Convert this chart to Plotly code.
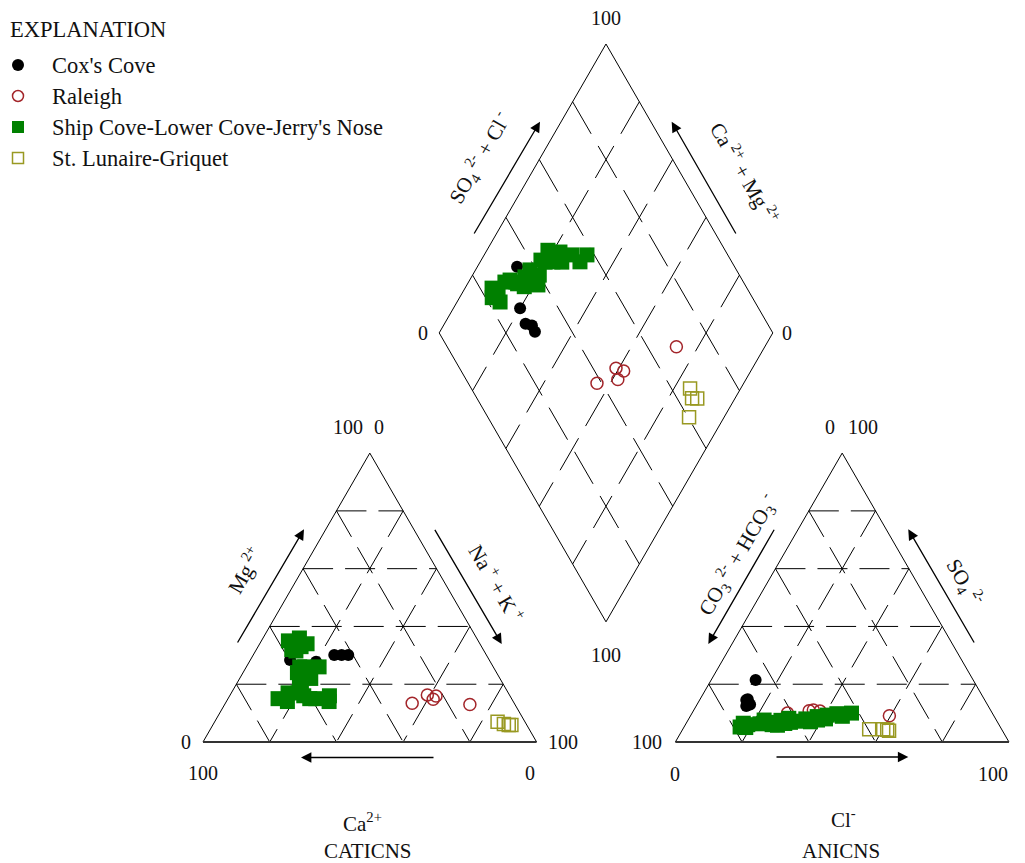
import numpy as np
import plotly.graph_objects as go

# ---------------- DATA (percent of milliequivalents) ----------------
groups = ["Cox's Cove", "Raleigh", "Ship Cove-Lower Cove-Jerry's Nose", "St. Lunaire-Griquet"]

# Cox's Cove
cox_mg = [28.4, 27.8, 30.1, 30.1, 30.1]
cox_nak = [11.9, 20.0, 24.3, 26.5, 28.5]
cox_ca = [100 - a - b for a, b in zip(cox_mg, cox_nak)]
cox_so4 = [21.5, 14.5, 12.5, 14.8, 13.0]
cox_cl = [13.3, 14.0, 15.0, 14.3, 15.9]
cox_hco3 = [100 - a - b for a, b in zip(cox_so4, cox_cl)]

# Raleigh
ral_mg = [13.4, 16.3, 15.9, 14.8, 13.0]
ral_nak = [56.0, 59.1, 61.9, 61.6, 73.5]
ral_ca = [100 - a - b for a, b in zip(ral_mg, ral_nak)]
ral_so4 = [10.0, 11.1, 10.7, 10.8, 9.1]
ral_cl = [28.6, 35.8, 38.0, 34.7, 59.6]
ral_hco3 = [100 - a - b for a, b in zip(ral_so4, ral_cl)]

# Ship Cove-Lower Cove-Jerry's Nose
shp_nak = [9.8, 8.1, 12.9, 10.6, 10.9, 14.2, 16.0, 21.3, 16.3, 17.9, 18.3,
           22.2, 26.3, 30.8, 29.9, 21.8, 17.5, 12.1, 15.0, 17.0, 20.0, 19.5, 24.5]
shp_mg = [34, 35, 33, 32, 36, 34, 26, 22, 24, 22, 14,
          16, 15, 14, 16, 26, 26, 31.5, 15, 17, 17, 20, 15]
shp_ca = [100 - a - b for a, b in zip(shp_mg, shp_nak)]
shp_so4cl = [22.0, 23.6, 23.6, 24.7, 28.5, 31.8, 35.4, 37.9, 38.1, 43.1, 46.9,
             50.2, 53.3, 57.8, 54.5, 46.4, 33.5, 30.4, 32.0, 36.0, 40.0, 44.0, 49.0]
shp_so4 = [5.2, 6.5, 5.0, 6.0, 6.3, 6.8, 7.5, 6.8, 8.2, 8.0, 8.8,
           9.3, 9.8, 10.0, 8.9, 7.6, 5.8, 7.6, 6.0, 6.4, 7.2, 7.0, 8.0]
shp_cl = [a - b for a, b in zip(shp_so4cl, shp_so4)]
shp_hco3 = [100 - a for a in shp_so4cl]

# St. Lunaire-Griquet
stl_mg = [7.0, 6.2, 5.9, 5.9]
stl_nak = [84.8, 87.1, 88.7, 89.5]
stl_ca = [100 - a - b for a, b in zip(stl_mg, stl_nak)]
stl_so4 = [4.2, 4.4, 3.9, 4.4]
stl_cl = [61.4, 60.1, 62.1, 55.9]
stl_hco3 = [100 - a - b for a, b in zip(stl_so4, stl_cl)]

grid_ticks = [20, 40, 60, 80]

# ---------------- GEOMETRY ----------------
SIDE = 100.0
GAP = 41.6
OFF = SIDE + GAP
H = np.sqrt(3) / 2
PX = 3.336               # pixels per unit
X0, Y0 = 203.0, 742.0    # screen pixel of the cation triangle's left corner
BODY = 8                 # default page margin around the plot div
SW, SH = 1025, 863       # screen size
W, HT = SW - BODY, SH - BODY

SERIF = "Liberation Serif, Times New Roman, serif"
TXT = "#111111"


def cation_xy(ca, mg, na):
    mg = np.asarray(mg, float); na = np.asarray(na, float)
    return na + 0.5 * mg, H * mg


def anion_xy(hco3, so4, cl):
    so4 = np.asarray(so4, float); cl = np.asarray(cl, float)
    return OFF + cl + 0.5 * so4, H * so4


def diamond_xy(na, s):
    na = np.asarray(na, float); s = np.asarray(s, float)
    t = OFF + s - na
    return na + 0.5 * t, H * t


def px(X, Y):
    """screen pixel -> data units (for decorations only)"""
    return (X - X0) / PX, (Y0 - Y) / PX


fig = go.Figure()


def add_lines(segs, dash=None, width=1.0, color="black"):
    xs, ys = [], []
    for (xa, ya), (xb, yb) in segs:
        xs += [xa, xb, None]
        ys += [ya, yb, None]
    fig.add_trace(go.Scatter(x=xs, y=ys, mode="lines", showlegend=False, hoverinfo="skip",
                             line=dict(color=color, width=width, dash=dash)))


def P(arr):
    return (float(arr[0]), float(arr[1]))


TRI_DASH = "30px,12px"
DIA_DASH = "37px,14px"

# --- cation triangle --- (slanted grid lines run from the sides down to the base)
cL = P(cation_xy(100, 0, 0)); cR = P(cation_xy(0, 0, 100)); cT = P(cation_xy(0, 100, 0))
segs = []
for v in grid_ticks:
    segs.append((P(cation_xy(100 - v, v, 0)), P(cation_xy(0, v, 100 - v))))
    segs.append((P(cation_xy(0, 100 - v, v)), P(cation_xy(100 - v, 0, v))))
    segs.append((P(cation_xy(v, 100 - v, 0)), P(cation_xy(v, 0, 100 - v))))
add_lines(segs, dash=TRI_DASH)
add_lines([(cL, cT), (cT, cR)])
add_lines([(cL, cR)], width=2, color="#333333")

# --- anion triangle ---
aL = P(anion_xy(100, 0, 0)); aR = P(anion_xy(0, 0, 100)); aT = P(anion_xy(0, 100, 0))
segs = []
for v in grid_ticks:
    segs.append((P(anion_xy(100 - v, v, 0)), P(anion_xy(0, v, 100 - v))))
    segs.append((P(anion_xy(0, 100 - v, v)), P(anion_xy(100 - v, 0, v))))
    segs.append((P(anion_xy(v, 100 - v, 0)), P(anion_xy(v, 0, 100 - v))))
add_lines(segs, dash=TRI_DASH)
add_lines([(aL, aT), (aT, aR)])
add_lines([(aL, aR)], width=2, color="#333333")

# --- diamond ---
dB = P(diamond_xy(100, 0)); dL = P(diamond_xy(0, 0)); dR = P(diamond_xy(100, 100)); dT = P(diamond_xy(0, 100))
segs = []
for v in grid_ticks:
    segs.append((P(diamond_xy(v, 100)), P(diamond_xy(v, 0))))
    segs.append((P(diamond_xy(0, v)), P(diamond_xy(100, v))))
add_lines(segs, dash=DIA_DASH)
add_lines([(dB, dL), (dL, dT), (dT, dR), (dR, dB)])

# ---------------- DATA TRACES ----------------
def all_xy(ca, mg, na, hco3, so4, cl):
    x1, y1 = cation_xy(ca, mg, na)
    x2, y2 = anion_xy(hco3, so4, cl)
    s = np.asarray(so4, float) + np.asarray(cl, float)
    x3, y3 = diamond_xy(na, s)
    return np.concatenate([x1, x2, x3]), np.concatenate([y1, y2, y3])


styles = [
    dict(symbol="circle", size=12, color="black", line=dict(width=0)),
    dict(symbol="circle-open", size=12, color="#a3252a", line=dict(width=1.5, color="#a3252a")),
    dict(symbol="square", size=15, color="#008000", line=dict(width=0)),
    dict(symbol="square-open", size=13, color="#999922", line=dict(width=1.5, color="#999922")),
]
legend_styles = [
    dict(symbol="circle", size=12, color="black", line=dict(width=0)),
    dict(symbol="circle-open", size=11, color="#a3252a", line=dict(width=1.5, color="#a3252a")),
    dict(symbol="square", size=12, color="#008000", line=dict(width=0)),
    dict(symbol="square-open", size=11, color="#999922", line=dict(width=1.5, color="#999922")),
]
datasets = [
    (cox_ca, cox_mg, cox_nak, cox_hco3, cox_so4, cox_cl),
    (ral_ca, ral_mg, ral_nak, ral_hco3, ral_so4, ral_cl),
    (shp_ca, shp_mg, shp_nak, shp_hco3, shp_so4, shp_cl),
    (stl_ca, stl_mg, stl_nak, stl_hco3, stl_so4, stl_cl),
]
for name, ds, st in zip(groups, datasets, styles):
    x, y = all_xy(*ds)
    fig.add_trace(go.Scatter(x=x, y=y, mode="markers", name=name, legendgroup=name,
                             marker=st, hoverinfo="name", showlegend=False))

# ---------------- LABELS ----------------
ann = []


def label(pt, text, dx=0, dy=0, size=20, angle=0, anchor="center"):
    ann.append(dict(x=pt[0], y=pt[1], xref="x", yref="y", text=text, showarrow=False,
                    xshift=dx, yshift=dy, textangle=angle,
                    font=dict(family=SERIF, size=size, color=TXT),
                    xanchor=anchor, yanchor="middle"))


# explanation block (legend)
label(px(8, 29), "EXPLANATION", size=22.5, anchor="left")
legend_rows = [65, 96, 127, 158]
for name, st, row in zip(groups, legend_styles, legend_rows):
    lx, ly = px(18, row)
    fig.add_trace(go.Scatter(x=[lx], y=[ly], mode="markers", marker=st, name=name,
                             legendgroup=name, showlegend=False, hoverinfo="skip"))
    label(px(50, row), name, size=22.5, anchor="left")

# corner numbers
label(cT, "100", -22, 26); label(cT, "0", 9, 26)
label(cL, "0", -17, 0); label(cL, "100", 0, -31)
label(cR, "100", 26, 0); label(cR, "0", -7, -31)
label(aT, "0", -12, 26); label(aT, "100", 21, 26)
label(aL, "100", -28, 0); label(aL, "0", 0, -32)
label(aR, "0", 14, 0); label(aR, "100", -16, -32)
label(dT, "100", 0, 26); label(dL, "0", -16, 0); label(dR, "0", 14, 0); label(dB, "100", 0, -33)

# axis titles
label(px(362, 822), "Ca<sup>2+</sup>", size=21)
label(px(368, 851), "CATICNS", size=21)
label(px(843, 818), "Cl<sup>-</sup>", size=21)
label(px(841, 851), "ANICNS", size=21)

label(px(244, 570), "Mg<sup> 2+</sup>", size=21, angle=-60)
label(px(497, 583), "Na<sup> +</sup> + K<sup> +</sup>", size=21, angle=60)
label(px(737, 555), "CO<sub>3</sub><sup> 2-</sup> + HCO<sub>3</sub><sup> -</sup>", size=21, angle=-60)
label(px(965, 582), "SO<sub>4</sub><sup> 2-</sup>", size=21, angle=60)
label(px(479, 158), "SO<sub>4</sub><sup> 2-</sup> + Cl<sup> -</sup>", size=21, angle=-60)
label(px(745, 172), "Ca<sup> 2+</sup> + Mg<sup> 2+</sup>", size=21, angle=60)


def arrow(tail, head):
    ann.append(dict(x=head[0], y=head[1], ax=tail[0], ay=tail[1], xref="x", yref="y",
                    axref="x", ayref="y", text="", showarrow=True, arrowhead=2,
                    arrowsize=1.6, arrowwidth=1.3, arrowcolor="black"))


arrow(px(236.7, 644), px(304, 529.3))
arrow(px(434, 528.3), px(501.7, 644))
arrow(px(435, 757.5), px(301, 757.5))
arrow(px(775, 528.3), px(708.3, 644))
arrow(px(975, 644), px(908.3, 529.3))
arrow(px(775, 757), px(908.3, 757))
arrow(px(473.3, 235), px(540, 121.7))
arrow(px(736.7, 235), px(671.7, 121.7))

xr = [(BODY - X0) / PX, (SW - X0) / PX]
yr = [(Y0 - SH) / PX, (Y0 - BODY) / PX]

fig.update_layout(
    width=W, height=HT, autosize=False,
    margin=dict(l=0, r=0, t=0, b=0),
    paper_bgcolor="white", plot_bgcolor="white",
    xaxis=dict(range=xr, visible=False, fixedrange=True),
    yaxis=dict(range=yr, visible=False, fixedrange=True),
    annotations=ann,
    showlegend=False,
)

fig.write_html("out.html")
